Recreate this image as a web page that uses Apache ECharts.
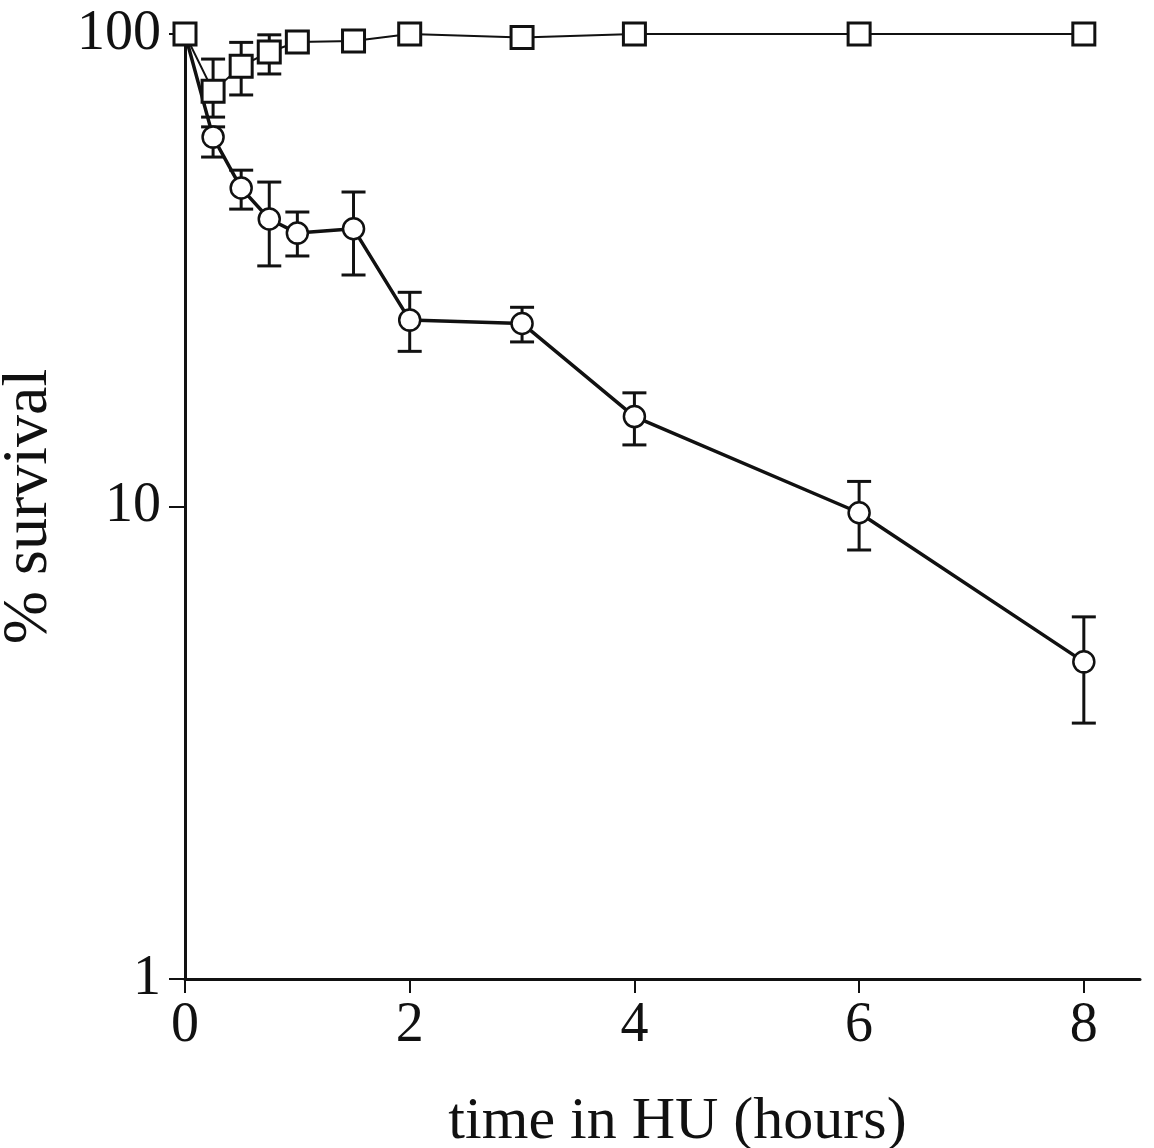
<!DOCTYPE html>
<html>
<head>
<meta charset="utf-8">
<script src="https://cdn.jsdelivr.net/npm/echarts@6/dist/echarts.min.js"></script>
<style>
  html, body { margin: 0; padding: 0; background: #fff; }
  #chart { width: 1154px; height: 1148px; }
</style>
</head>
<body>
<div id="chart"></div>
<script>
// Survival time course in hydroxyurea (HU), log scale
const hours = [0, 0.25, 0.5, 0.75, 1, 1.5, 2, 3, 4, 6, 8];

// Untreated control (open squares)
const controlSurvival = [100, 75.7, 85.5, 91.6, 96.2, 96.7, 100, 98.3, 100, 100, 100];
const controlLow  = [null, 66.7, 74.3, 82.3, null, null, null, null, null, null, null];
const controlHigh = [null, 88.5, 96.0, 99.6, null, null, null, null, null, null, null];

// HU-treated (open circles)
const huSurvival = [100, 60.5, 47.2, 40.6, 37.9, 38.7, 24.8, 24.4, 15.5, 9.7, 4.69];
const huLow  = [null, 54.9, 42.6, 32.3, 33.9, 30.9, 21.3, 22.3, 13.5, 8.09, 3.48];
const huHigh = [null, 63.6, 51.5, 48.6, 42.0, 46.3, 28.4, 26.4, 17.4, 11.3, 5.84];

const xTicks = [0, 2, 4, 6, 8];
const yTicks = [1, 10, 100];

const ink = '#111';
const serif = '"Liberation Serif", "DejaVu Serif", serif';

function pairs(xs, ys) {
  return xs.map((x, i) => [x, ys[i]]);
}
function errRows(xs, lo, hi) {
  const rows = [];
  xs.forEach((x, i) => {
    if (lo[i] != null && hi[i] != null) rows.push([x, lo[i], hi[i]]);
  });
  return rows;
}

function errorBars(rows, name) {
  return {
    type: 'custom',
    name: name,
    z: 1,
    silent: true,
    data: rows,
    encode: { x: 0, y: [1, 2] },
    renderItem: function (params, api) {
      const lo = api.coord([api.value(0), api.value(1)]);
      const hi = api.coord([api.value(0), api.value(2)]);
      const half = 12;
      const style = { stroke: ink, lineWidth: 3, fill: null };
      return {
        type: 'group',
        children: [
          { type: 'line', shape: { x1: lo[0], y1: lo[1], x2: hi[0], y2: hi[1] }, style: style },
          { type: 'line', shape: { x1: lo[0] - half, y1: lo[1], x2: lo[0] + half, y2: lo[1] }, style: style },
          { type: 'line', shape: { x1: hi[0] - half, y1: hi[1], x2: hi[0] + half, y2: hi[1] }, style: style }
        ]
      };
    }
  };
}

const chart = echarts.init(document.getElementById('chart'), null, { renderer: 'canvas' });

chart.setOption({
  backgroundColor: '#fff',
  animation: false,
  grid: { left: 185, right: 14, top: 34, bottom: 169, containLabel: false, outerBoundsMode: 'none' },
  xAxis: {
    type: 'value',
    min: 0,
    max: 8.5,
    name: 'time in HU (hours)',
    nameLocation: 'middle',
    nameGap: 113,
    nameTextStyle: { fontFamily: serif, fontSize: 60, color: ink, padding: [0, 0, 0, 30] },
    axisLine: { show: true, onZero: false, lineStyle: { color: ink, width: 3 } },
    axisTick: { show: true, customValues: xTicks, length: 14, lineStyle: { color: ink, width: 2 } },
    axisLabel: { customValues: xTicks, margin: 19, fontFamily: serif, fontSize: 56, color: ink },
    splitLine: { show: false }
  },
  yAxis: {
    type: 'log',
    logBase: 10,
    min: 1,
    max: 100,
    name: '% survival',
    nameLocation: 'middle',
    nameGap: 124,
    nameTextStyle: { fontFamily: serif, fontSize: 64, color: ink },
    axisLine: { show: true, onZero: false, lineStyle: { color: ink, width: 3 } },
    axisTick: { show: true, customValues: yTicks, length: 16, lineStyle: { color: ink, width: 2 } },
    axisLabel: { customValues: yTicks, margin: 24, fontFamily: serif, fontSize: 56, color: ink },
    minorTick: { show: false },
    splitLine: { show: false }
  },
  series: [
    errorBars(errRows(hours, huLow, huHigh), 'HU error'),
    errorBars(errRows(hours, controlLow, controlHigh), 'control error'),
    {
      type: 'line',
      name: 'HU',
      z: 3,
      data: pairs(hours, huSurvival),
      symbol: 'circle',
      symbolSize: 21,
      showAllSymbol: true,
      lineStyle: { color: ink, width: 3.5 },
      itemStyle: { color: '#fff', borderColor: ink, borderWidth: 2.5 }
    },
    {
      type: 'line',
      name: 'control',
      z: 4,
      data: pairs(hours, controlSurvival),
      symbol: 'rect',
      symbolSize: 22,
      showAllSymbol: true,
      lineStyle: { color: ink, width: 2 },
      itemStyle: { color: '#fff', borderColor: ink, borderWidth: 3 }
    }
  ]
});
</script>
</body>
</html>
